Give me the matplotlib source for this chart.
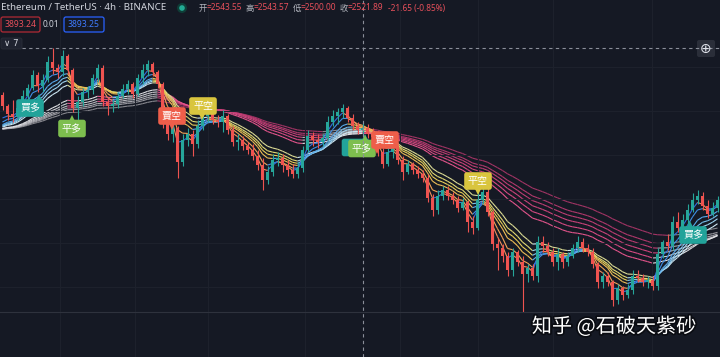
import matplotlib

matplotlib.use("Agg")
import matplotlib.pyplot as plt  # noqa: E402
import matplotlib.patheffects as pe  # noqa: E402
import numpy as np  # noqa: E402
from matplotlib.collections import LineCollection  # noqa: E402
from matplotlib.patches import Circle, FancyBboxPatch  # noqa: E402

# 配色（TradingView 深色主題）
BG = "#151924"
GRID = "#1D212C"
TEXT = "#D1D4DC"
MUTED = "#B2B5BE"
UP = "#26A69A"
DOWN = "#EF5350"
RED_TXT = "#E8505B"
BLUE = "#2962FF"
CJK = ["Noto Sans CJK TC", "DejaVu Sans"]

# ---- 資料：ETH/USDT 4h K 線 ----
prior_close = 2560  # 視窗之前的收盤水準（均線起點）
first_open = 2700
closes = [
    2656, 2624, 2612, 2648, 2696, 2728, 2780, 2736, 2760, 2832,
    2808, 2792, 2856, 2800, 2648, 2672, 2712, 2720, 2768, 2808,
    2672, 2656, 2664, 2696, 2724, 2744, 2704, 2768, 2800, 2824,
    2792, 2744, 2592, 2544, 2568, 2432, 2520, 2544, 2504, 2576,
    2616, 2632, 2600, 2592, 2616, 2560, 2512, 2520, 2496, 2480,
    2456, 2420, 2360, 2392, 2440, 2448, 2420, 2400, 2384, 2408,
    2480, 2536, 2520, 2512, 2528, 2592, 2616, 2632, 2648, 2608,
    2576, 2560, 2568, 2544, 2532, 2472, 2424, 2472, 2488, 2440,
    2392, 2424, 2400, 2384, 2368, 2288, 2240, 2296, 2320, 2296,
    2280, 2248, 2272, 2192, 2168, 2280, 2312, 2232, 2104, 2088,
    2056, 2000, 2072, 2032, 1984, 2008, 1976, 2112, 2096, 2072,
    2032, 2064, 2032, 2056, 2088, 2112, 2088, 2072, 2024, 1952,
    1976, 1952, 1880, 1928, 1900, 1920, 1976, 1968, 1952, 1960,
    1936, 2064, 2112, 2096, 2192, 2168, 2200, 2240, 2280, 2296,
    2256, 2224, 2248, 2280,
]
highs = [
    2712, 2664, 2680, 2664, 2720, 2744, 2800, 2792, 2784, 2856,
    2888, 2824, 2880, 2864, 2808, 2696, 2728, 2736, 2784, 2824,
    2820, 2688, 2680, 2712, 2744, 2760, 2752, 2784, 2824, 2840,
    2832, 2800, 2752, 2632, 2592, 2576, 2544, 2568, 2560, 2600,
    2648, 2656, 2648, 2620, 2640, 2624, 2576, 2544, 2536, 2512,
    2504, 2480, 2448, 2416, 2464, 2472, 2464, 2440, 2424, 2432,
    2496, 2560, 2552, 2544, 2544, 2616, 2640, 2648, 2664, 2656,
    2624, 2592, 2592, 2584, 2568, 2556, 2488, 2496, 2504, 2496,
    2456, 2440, 2432, 2416, 2400, 2384, 2304, 2320, 2336, 2336,
    2312, 2296, 2288, 2280, 2216, 2336, 2336, 2328, 2240, 2128,
    2104, 2072, 2088, 2080, 2056, 2024, 2024, 2136, 2136, 2112,
    2088, 2088, 2072, 2072, 2104, 2136, 2128, 2104, 2088, 2032,
    1992, 1992, 1960, 1944, 1936, 1944, 2000, 2000, 1984, 1976,
    1976, 2088, 2120, 2144, 2216, 2232, 2224, 2264, 2308, 2320,
    2312, 2280, 2272, 2296,
]
lows = [
    2640, 2600, 2592, 2600, 2640, 2680, 2720, 2712, 2712, 2752,
    2784, 2768, 2776, 2784, 2632, 2600, 2656, 2688, 2704, 2752,
    2656, 2620, 2632, 2648, 2688, 2704, 2688, 2696, 2744, 2776,
    2776, 2728, 2568, 2520, 2512, 2368, 2416, 2496, 2456, 2488,
    2560, 2592, 2584, 2572, 2552, 2544, 2496, 2480, 2480, 2464,
    2440, 2400, 2320, 2344, 2376, 2416, 2392, 2376, 2368, 2368,
    2392, 2472, 2496, 2488, 2496, 2520, 2576, 2584, 2608, 2592,
    2560, 2544, 2536, 2528, 2512, 2456, 2408, 2416, 2448, 2424,
    2360, 2384, 2384, 2368, 2352, 2272, 2216, 2224, 2280, 2280,
    2264, 2232, 2240, 2152, 2144, 2160, 2264, 2216, 2080, 2000,
    2032, 1976, 1976, 2016, 1832, 1952, 1960, 1952, 2072, 2056,
    2016, 2000, 2008, 2016, 2048, 2072, 2072, 2056, 2008, 1928,
    1928, 1936, 1856, 1864, 1880, 1888, 1904, 1952, 1936, 1928,
    1920, 1920, 2048, 2080, 2080, 2152, 2152, 2184, 2232, 2264,
    2240, 2208, 2216, 2232,
]

# 均線帶週期（短期 / 長期）
short_periods = [3, 5, 8, 10, 12, 15]
long_periods = [30, 35, 40, 45, 50, 60]
short_up = ["#2F6FE0", "#3F8FE6", "#58AAEC", "#78C2F0", "#A2D7F2", "#CFE9F5"]
short_dn = ["#F28C5A", "#F3A457", "#EFBE55", "#E9D05A", "#E3DB72", "#DCDC95"]
long_up = ["#E2E2E6", "#CDCDD2", "#B9B9BF", "#A7A7AE", "#96969D", "#87878E"]
long_dn = ["#E4548C", "#D84A83", "#CC437B", "#BF3D73", "#B1386C", "#A23464"]

# 訊號標籤（第五個被後一個標籤蓋住，只露出邊緣）
sig_text = ["買多", "平多", "賣空", "平空", "\u3000\u3000", "平多", "賣空", "平空", "買多"]
sig_color = ["#22A39A", "#7DBE4E", "#EE5E4A", "#D9C53E", "#22A39A", "#7DBE4E",
             "#EE5E4A", "#D9C53E", "#22A39A"]
sig_x = [5.5, 13.9, 33.9, 40.1, 70.6, 71.9, 76.5, 95.1, 138.1]
sig_y = [2648, 2566, 2616, 2656, 2490, 2486, 2520, 2356, 2140]
sig_dir = ["up", "up", "down", "down", "up", "up", "down", "down", "up"]
sig_tip_x = [7.3, 13.9, 33.9, 39.9, 72.5, 72.5, 74.9, 95.1, 137.5]

ohlc_names = ["开", "高", "低", "收"]
ohlc_values = ["2543.55", "2543.57", "2500.00", "2521.89"]
change_text = "-21.65 (-0.85%)"

W, H = 720, 357


def ema(values, span, seed):
    alpha = 2.0 / (span + 1)
    out = np.empty(len(values))
    prev = seed
    for k, v in enumerate(values):
        prev = alpha * v + (1 - alpha) * prev
        out[k] = prev
    return out


def ribbon(ax, xs, line, up_color, dn_color, z):
    pts = np.column_stack([xs, line])
    segs = np.stack([pts[:-1], pts[1:]], axis=1)
    cols = [up_color if b >= a else dn_color for a, b in zip(line[:-1], line[1:])]
    ax.add_collection(LineCollection(segs, colors=cols, linewidths=0.8, zorder=z))


fig = plt.figure(figsize=(W / 100, H / 100), dpi=100, facecolor=BG)
ax = fig.add_axes([0, 0, 1, 1])
ax.set_facecolor(BG)
n = len(closes)
idx = np.arange(n)
ax.set_xlim(-0.5, n - 0.5)
ax.set_ylim(3080 - 4 * H, 3080)
for s in ax.spines.values():
    s.set_visible(False)
ax.set_xticks([11.5, 26.5, 41.1, 60.5, 79.5, 95.1, 110.1, 129.9])
ax.set_yticks([2812, 2636, 2460, 2284, 2108, 1932])
ax.tick_params(length=0, labelbottom=False, labelleft=False)
ax.grid(True, color=GRID, linewidth=0.8, zorder=0)

close = np.array(closes, dtype=float)
opens = np.concatenate([[first_open], close[:-1]])

# 均線帶
for p, cu, cd in zip(long_periods[::-1], long_up[::-1], long_dn[::-1]):
    ribbon(ax, idx, ema(close, p, prior_close), cu, cd, 1)
for p, cu, cd in zip(short_periods[::-1], short_up[::-1], short_dn[::-1]):
    ribbon(ax, idx, ema(close, p, prior_close), cu, cd, 2)

# K 線
colors = [UP if c >= o else DOWN for o, c in zip(opens, close)]
ax.vlines(idx, lows, highs, colors=colors, linewidth=0.8, zorder=3)
body = np.where(np.abs(close - opens) < 3, 3, close - opens)
ax.bar(idx, body, bottom=opens, width=0.62, color=colors, linewidth=0, zorder=4)

# 訊號標籤
for t, c, x, y, d, tx in zip(sig_text, sig_color, sig_x, sig_y, sig_dir, sig_tip_x):
    ax.text(x, y, t, color="white", fontsize=7.2, family=CJK, ha="center",
            va="center", zorder=6,
            bbox=dict(boxstyle="round,pad=0.38,rounding_size=0.25", fc=c, ec="none"))
    ty = y + 40 if d == "up" else y - 40
    ax.plot(tx, ty, marker="^" if d == "up" else "v", ms=5.5, color=c,
            markeredgewidth=0, zorder=6)

# 十字游標與分隔線
ax.axvline(72, color="#8A8E99", linewidth=0.8, linestyle=(0, (3, 3)), zorder=7)
fig.add_artist(plt.Line2D([22 / W, 1], [1 - 48 / H] * 2, color="#8A8E99",
                          linewidth=0.8, linestyle=(0, (3, 3))))
fig.add_artist(plt.Line2D([0, 1], [1 - 312 / H] * 2, color="#2E323D", linewidth=0.8))


def fx(x):
    return x / W


def fy(y):
    return 1 - y / H


# 標題列
fig.text(fx(1), fy(8), "Ethereum / TetherUS · 4h · BINANCE", color=TEXT,
         fontsize=7.0, family="Noto Sans", va="center")
fig.add_artist(Circle((182 / 100, (H - 8) / 100), 0.05, transform=fig.dpi_scale_trans,
                      fc="#0F3D37", ec="none"))
fig.add_artist(Circle((182 / 100, (H - 8) / 100), 0.028, transform=fig.dpi_scale_trans,
                      fc="#22AB94", ec="none"))
for name, val, x in zip(ohlc_names, ohlc_values, [199, 246, 293, 340]):
    fig.text(fx(x), fy(8), name, color=MUTED, fontsize=6.0, family=CJK, va="center")
    fig.text(fx(x + 8), fy(8), "=" + val, color=RED_TXT, fontsize=6.0,
             family="Noto Sans", va="center")
fig.text(fx(388), fy(8), change_text, color=RED_TXT, fontsize=6.0,
         family="Noto Sans", va="center")

# 買賣價格按鈕
for x0, w, ec, tc, txt in [(1, 39, "#B02A35", RED_TXT, "3893.24"),
                           (64, 40, BLUE, "#3F7BFF", "3893.25")]:
    fig.add_artist(FancyBboxPatch((x0 / 100, (H - 32) / 100), w / 100, 15 / 100,
                                  boxstyle="round,pad=0,rounding_size=0.02",
                                  transform=fig.dpi_scale_trans, fc=BG, ec=ec,
                                  linewidth=0.9))
    fig.text(fx(x0 + w / 2), fy(24.5), txt, color=tc, fontsize=6.2,
             family="Noto Sans", ha="center", va="center")
fig.text(fx(51), fy(24.5), "0.01", color=TEXT, fontsize=6.0, family="Noto Sans",
         ha="center", va="center")

fig.add_artist(FancyBboxPatch((1 / 100, (H - 49) / 100), 21 / 100, 11 / 100,
                              boxstyle="round,pad=0,rounding_size=0.02",
                              transform=fig.dpi_scale_trans, fc="#1F2330", ec="#2A2E39",
                              linewidth=0.6))
fig.text(fx(11.5), fy(43.5), "∨ 7", color=TEXT, fontsize=6.2, family="DejaVu Sans",
         ha="center", va="center")

fig.add_artist(FancyBboxPatch((697 / 100, (H - 57) / 100), 18 / 100, 17 / 100,
                              boxstyle="round,pad=0,rounding_size=0.02",
                              transform=fig.dpi_scale_trans, fc="#2A2E39", ec="none"))
fig.text(fx(706), fy(48.5), "⊕", color="#E0E3EB", fontsize=10, family="DejaVu Sans",
         ha="center", va="center")

# 浮水印
fig.text(fx(614), fy(327), "知乎 @石破天紫砂", color="white", fontsize=14.5,
         family=["Noto Sans CJK SC", "DejaVu Sans"], ha="center", va="center",
         path_effects=[pe.withStroke(linewidth=2.5, foreground="#0A0C12")])

fig.savefig("out.png", dpi=100, facecolor=BG)
